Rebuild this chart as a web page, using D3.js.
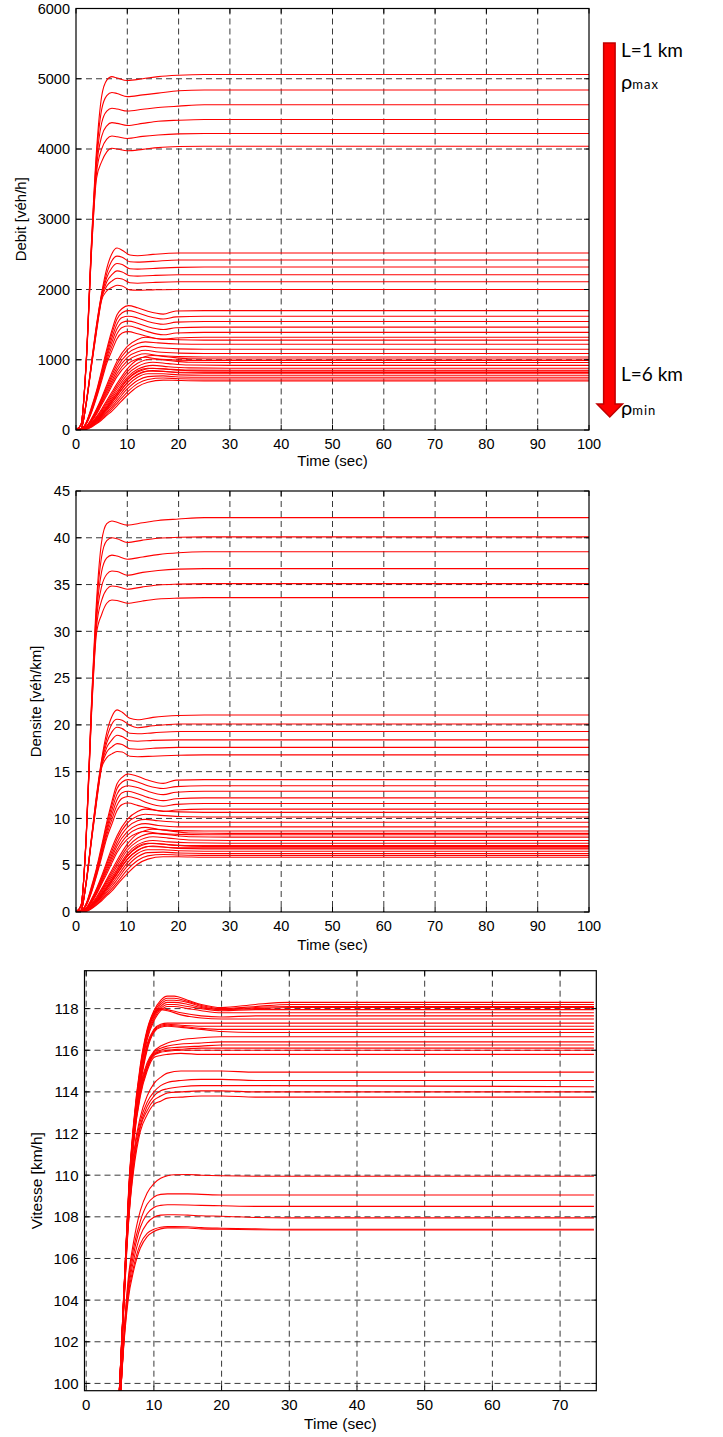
<!DOCTYPE html>
<html>
<head>
<meta charset="utf-8">
<script src="https://cdn.jsdelivr.net/npm/d3@7"></script>
<style>
  body { margin: 0; background: #fff; }
  svg { display: block; }
  .tick-label, .axis-label { font-family: "Liberation Sans", Arial, sans-serif; fill: #000; }
  .note { font-family: Lato, "Open Sans", sans-serif; fill: #000; }
</style>
</head>
<body>
<svg id="fig" width="723" height="1437"></svg>
<script>
// ---------- Debit [véh/h] and Densite [véh/km] : six families of six runs ----------
const timeA = [0, 1, 2, 3, 4, 5, 6, 7, 8, 10, 13, 16, 20, 25, 100];
const debitA = [
  [0, 80, 1000, 2650, 3980, 4750, 4980, 5030, 5010, 4975, 5000, 5030, 5050, 5060, 5060],
  [0, 80, 990, 2620, 3900, 4560, 4760, 4805, 4790, 4745, 4770, 4795, 4830, 4840, 4840],
  [0, 80, 980, 2590, 3820, 4370, 4540, 4580, 4570, 4540, 4565, 4590, 4610, 4630, 4630],
  [0, 80, 970, 2560, 3740, 4180, 4330, 4375, 4365, 4335, 4365, 4395, 4410, 4420, 4420],
  [0, 80, 960, 2530, 3660, 4000, 4140, 4185, 4175, 4150, 4180, 4200, 4215, 4220, 4220],
  [0, 80, 950, 2500, 3580, 3820, 3960, 4010, 4000, 3975, 3995, 4020, 4035, 4040, 4040]
];
const densiteA = [
  [0, 0.7, 8.3, 22.1, 33.2, 39.6, 41.5, 41.8, 41.65, 41.35, 41.6, 41.85, 42.0, 42.15, 42.15],
  [0, 0.7, 8.25, 21.8, 32.5, 38.0, 39.7, 40.0, 39.9, 39.5, 39.75, 39.95, 40.05, 40.1, 40.1],
  [0, 0.7, 8.2, 21.6, 31.8, 36.4, 37.85, 38.15, 38.05, 37.7, 37.95, 38.2, 38.4, 38.5, 38.5],
  [0, 0.7, 8.1, 21.3, 31.2, 34.8, 36.1, 36.45, 36.4, 36.0, 36.3, 36.5, 36.65, 36.7, 36.7],
  [0, 0.7, 8.0, 21.1, 30.5, 33.3, 34.5, 34.85, 34.8, 34.5, 34.75, 34.95, 35.05, 35.1, 35.1],
  [0, 0.7, 7.9, 20.8, 29.8, 31.8, 33.0, 33.35, 33.3, 33.0, 33.25, 33.45, 33.55, 33.6, 33.6]
];

const timeB = [0, 1, 2, 3, 4, 5, 6, 7, 8, 9, 10.5, 12, 15, 20, 25, 100];
const debitB = [
  [0, 20, 400, 950, 1500, 1950, 2300, 2510, 2590, 2560, 2490, 2480, 2500, 2520, 2520, 2520],
  [0, 20, 395, 940, 1480, 1930, 2230, 2410, 2475, 2460, 2395, 2390, 2400, 2420, 2420, 2420],
  [0, 20, 390, 930, 1460, 1910, 2170, 2310, 2370, 2355, 2295, 2290, 2300, 2315, 2320, 2320],
  [0, 20, 385, 920, 1440, 1890, 2110, 2210, 2265, 2250, 2195, 2190, 2200, 2210, 2210, 2210],
  [0, 20, 380, 910, 1420, 1870, 2050, 2120, 2160, 2150, 2095, 2090, 2100, 2110, 2110, 2110],
  [0, 20, 375, 900, 1400, 1850, 1980, 2030, 2060, 2050, 1995, 1990, 1995, 2000, 2000, 2000]
];
const densiteB = [
  [0, 0.2, 3.3, 7.9, 12.5, 16.3, 19.2, 20.9, 21.6, 21.35, 20.7, 20.55, 20.8, 21.0, 21.05, 21.05],
  [0, 0.2, 3.3, 7.8, 12.3, 16.1, 18.6, 20.1, 20.6, 20.5, 19.95, 19.7, 19.9, 20.1, 20.1, 20.1],
  [0, 0.2, 3.25, 7.75, 12.2, 15.9, 18.1, 19.25, 19.75, 19.6, 19.1, 19.05, 19.15, 19.3, 19.3, 19.3],
  [0, 0.2, 3.2, 7.7, 12.0, 15.75, 17.6, 18.4, 18.9, 18.75, 18.3, 18.25, 18.35, 18.4, 18.4, 18.4],
  [0, 0.2, 3.15, 7.6, 11.85, 15.6, 17.1, 17.65, 18.0, 17.9, 17.45, 17.4, 17.5, 17.6, 17.6, 17.6],
  [0, 0.2, 3.1, 7.5, 11.7, 15.4, 16.5, 16.9, 17.15, 17.1, 16.65, 16.6, 16.65, 16.75, 16.8, 16.8]
];

const timeC = [0, 1, 2, 3, 4, 5, 6, 7, 8, 9, 10.2, 12, 14, 17, 19.5, 25, 100];
const debitC = [
  [0, 10, 110, 320, 560, 850, 1150, 1420, 1640, 1730, 1770, 1740, 1690, 1650, 1695, 1700, 1700],
  [0, 10, 105, 305, 540, 820, 1110, 1370, 1580, 1670, 1700, 1670, 1620, 1580, 1610, 1620, 1620],
  [0, 10, 100, 290, 520, 790, 1070, 1310, 1510, 1600, 1620, 1595, 1545, 1505, 1535, 1545, 1545],
  [0, 10, 95, 275, 500, 760, 1030, 1250, 1440, 1530, 1550, 1520, 1470, 1430, 1455, 1465, 1465],
  [0, 10, 90, 260, 480, 730, 990, 1190, 1370, 1460, 1480, 1450, 1400, 1355, 1380, 1390, 1390],
  [0, 10, 85, 245, 460, 700, 950, 1130, 1300, 1380, 1400, 1370, 1330, 1290, 1310, 1320, 1320]
];
const densiteC = [
  [0, 0.1, 0.9, 2.7, 4.7, 7.1, 9.6, 11.8, 13.7, 14.4, 14.75, 14.5, 14.1, 13.75, 14.1, 14.15, 14.15],
  [0, 0.1, 0.9, 2.55, 4.5, 6.85, 9.25, 11.4, 13.2, 13.9, 14.15, 13.9, 13.5, 13.2, 13.4, 13.5, 13.5],
  [0, 0.1, 0.85, 2.4, 4.35, 6.6, 8.9, 10.9, 12.6, 13.3, 13.5, 13.3, 12.9, 12.55, 12.8, 12.9, 12.9],
  [0, 0.1, 0.8, 2.3, 4.15, 6.35, 8.6, 10.4, 12.0, 12.75, 12.9, 12.65, 12.25, 11.9, 12.1, 12.2, 12.2],
  [0, 0.1, 0.75, 2.15, 4.0, 6.1, 8.25, 9.9, 11.4, 12.15, 12.35, 12.1, 11.65, 11.3, 11.5, 11.6, 11.6],
  [0, 0.1, 0.7, 2.05, 3.85, 5.85, 7.9, 9.4, 10.85, 11.5, 11.65, 11.4, 11.1, 10.75, 10.9, 11.0, 11.0]
];

const timeD = [0, 1, 2, 3, 4, 5, 6, 7, 8, 10, 12, 13.5, 16, 20, 25, 100];
const debitD = [
  [0, 5, 50, 160, 300, 460, 640, 820, 980, 1190, 1290, 1320, 1300, 1285, 1280, 1280],
  [0, 5, 48, 150, 285, 440, 610, 780, 935, 1140, 1230, 1255, 1240, 1225, 1220, 1220],
  [0, 5, 46, 142, 270, 420, 580, 740, 890, 1085, 1170, 1190, 1170, 1155, 1150, 1150],
  [0, 5, 44, 135, 255, 400, 550, 700, 845, 1035, 1115, 1135, 1110, 1095, 1090, 1090],
  [0, 5, 42, 128, 240, 380, 520, 665, 800, 985, 1065, 1085, 1060, 1045, 1040, 1040],
  [0, 5, 40, 120, 225, 360, 490, 630, 760, 935, 1015, 1035, 1010, 995, 990, 990]
];
const densiteD = [
  [0, 0.05, 0.4, 1.35, 2.5, 3.85, 5.35, 6.85, 8.15, 9.9, 10.75, 11.0, 10.85, 10.7, 10.65, 10.65],
  [0, 0.05, 0.4, 1.25, 2.4, 3.65, 5.1, 6.5, 7.8, 9.5, 10.25, 10.45, 10.35, 10.2, 10.15, 10.15],
  [0, 0.05, 0.38, 1.2, 2.25, 3.5, 4.85, 6.15, 7.4, 9.05, 9.75, 9.9, 9.75, 9.6, 9.6, 9.6],
  [0, 0.05, 0.37, 1.1, 2.1, 3.35, 4.6, 5.85, 7.05, 8.6, 9.3, 9.45, 9.25, 9.1, 9.1, 9.1],
  [0, 0.05, 0.35, 1.05, 2.0, 3.15, 4.35, 5.55, 6.65, 8.2, 8.9, 9.05, 8.85, 8.7, 8.65, 8.65],
  [0, 0.05, 0.33, 1.0, 1.9, 3.0, 4.1, 5.25, 6.35, 7.8, 8.45, 8.6, 8.4, 8.3, 8.25, 8.25]
];

const timeE = [0, 2, 3, 4, 5, 6, 7, 8, 10, 12, 15, 18, 22, 30, 100];
const debitE = [
  [0, 30, 100, 190, 300, 420, 540, 660, 870, 1000, 1060, 1040, 1015, 1010, 1010],
  [0, 28, 92, 175, 280, 395, 510, 625, 830, 950, 1010, 990, 965, 960, 960],
  [0, 26, 85, 162, 262, 370, 480, 590, 790, 905, 965, 945, 925, 920, 920],
  [0, 24, 78, 150, 245, 345, 450, 555, 750, 865, 920, 900, 885, 880, 880],
  [0, 22, 72, 140, 228, 322, 422, 522, 712, 825, 880, 865, 852, 850, 850],
  [0, 20, 66, 130, 212, 300, 395, 490, 675, 785, 845, 830, 822, 820, 820]
];
const densiteE = [
  [0, 0.25, 0.85, 1.6, 2.5, 3.5, 4.5, 5.5, 7.25, 8.35, 8.85, 8.7, 8.45, 8.4, 8.4],
  [0, 0.23, 0.77, 1.45, 2.35, 3.3, 4.25, 5.2, 6.9, 7.9, 8.4, 8.25, 8.05, 8.0, 8.0],
  [0, 0.22, 0.7, 1.35, 2.2, 3.1, 4.0, 4.9, 6.6, 7.55, 8.05, 7.9, 7.7, 7.65, 7.65],
  [0, 0.2, 0.65, 1.25, 2.05, 2.9, 3.75, 4.6, 6.25, 7.2, 7.65, 7.5, 7.4, 7.35, 7.35],
  [0, 0.18, 0.6, 1.15, 1.9, 2.7, 3.5, 4.35, 5.95, 6.9, 7.35, 7.2, 7.1, 7.1, 7.1],
  [0, 0.17, 0.55, 1.1, 1.75, 2.5, 3.3, 4.1, 5.65, 6.55, 7.05, 6.9, 6.85, 6.85, 6.85]
];

const timeF = [0, 2, 3, 4, 5, 6, 7, 8, 10, 12, 14, 17, 20, 25, 100];
const debitF = [
  [0, 20, 80, 150, 230, 320, 420, 520, 720, 840, 880, 870, 850, 840, 840],
  [0, 18, 72, 138, 212, 298, 390, 485, 675, 795, 840, 835, 815, 810, 810],
  [0, 16, 64, 125, 195, 275, 360, 450, 630, 750, 800, 800, 785, 780, 780],
  [0, 14, 56, 112, 178, 252, 330, 415, 585, 705, 760, 770, 755, 750, 750],
  [0, 12, 48, 100, 160, 230, 300, 380, 540, 660, 720, 740, 730, 725, 725],
  [0, 10, 40, 88, 142, 208, 270, 345, 495, 615, 680, 710, 705, 700, 700]
];
const densiteF = [
  [0, 0.17, 0.65, 1.25, 1.9, 2.65, 3.5, 4.35, 6.0, 7.0, 7.35, 7.25, 7.1, 7.0, 7.0],
  [0, 0.15, 0.6, 1.15, 1.75, 2.5, 3.25, 4.05, 5.6, 6.6, 7.0, 6.95, 6.8, 6.75, 6.75],
  [0, 0.13, 0.55, 1.05, 1.6, 2.3, 3.0, 3.75, 5.25, 6.25, 6.65, 6.65, 6.55, 6.5, 6.5],
  [0, 0.12, 0.45, 0.95, 1.5, 2.1, 2.75, 3.45, 4.9, 5.9, 6.35, 6.4, 6.3, 6.25, 6.25],
  [0, 0.1, 0.4, 0.85, 1.35, 1.9, 2.5, 3.15, 4.5, 5.5, 6.0, 6.15, 6.1, 6.05, 6.05],
  [0, 0.08, 0.35, 0.75, 1.2, 1.75, 2.25, 2.9, 4.1, 5.1, 5.65, 5.9, 5.9, 5.85, 5.85]
];

// ---------- Vitesse [km/h] ----------
const timeS1 = [4.8, 5.3, 5.8, 6.3, 7, 8, 9, 10, 11, 12, 13, 15, 17, 20, 25, 30, 75];
const vitesseS1 = [
  [99, 102.5, 106, 109.5, 112.5, 115.3, 117.0, 117.9, 118.4, 118.6, 118.6, 118.4, 118.2, 118.05, 118.2, 118.3, 118.3],
  [99, 102.5, 106, 109.4, 112.4, 115.2, 116.9, 117.8, 118.3, 118.5, 118.5, 118.35, 118.15, 118.0, 118.1, 118.2, 118.2],
  [99, 102.4, 105.9, 109.3, 112.3, 115.1, 116.8, 117.7, 118.2, 118.4, 118.4, 118.3, 118.1, 117.95, 118.05, 118.1, 118.1],
  [99, 102.4, 105.8, 109.2, 112.2, 115.0, 116.7, 117.6, 118.1, 118.3, 118.3, 118.2, 118.05, 117.95, 118.0, 118.05, 118.05],
  [99, 102.3, 105.7, 109.1, 112.1, 114.9, 116.6, 117.5, 118.0, 118.2, 118.2, 118.1, 118.0, 117.9, 117.95, 117.95, 117.95],
  [99, 102.3, 105.6, 109.0, 112.0, 114.8, 116.5, 117.4, 117.9, 118.1, 118.1, 118.0, 117.9, 117.8, 117.8, 117.8, 117.8]
];
const timeS2 = [4.8, 5.3, 5.8, 6.3, 7, 8, 9, 10, 11, 12, 14, 17, 20, 25, 30, 75];
const vitesseS2 = [
  [99, 102.4, 105.9, 109.3, 112.3, 115.1, 116.9, 117.8, 118.0, 117.95, 117.8, 117.65, 117.6, 117.65, 117.65, 117.65],
  [99, 102.3, 105.8, 109.2, 112.2, 115.0, 116.8, 117.7, 117.95, 117.9, 117.7, 117.55, 117.5, 117.5, 117.5, 117.5],
  [99, 102.2, 105.6, 109.0, 111.9, 114.6, 116.3, 117.0, 117.25, 117.3, 117.3, 117.3, 117.3, 117.3, 117.3, 117.3],
  [99, 102.2, 105.5, 108.9, 111.8, 114.5, 116.2, 116.95, 117.2, 117.25, 117.2, 117.15, 117.15, 117.15, 117.15, 117.15],
  [99, 102.1, 105.4, 108.8, 111.7, 114.4, 116.1, 116.9, 117.15, 117.2, 117.15, 117.05, 117.0, 117.0, 117.0, 117.0],
  [99, 102.1, 105.3, 108.7, 111.6, 114.3, 116.0, 116.85, 117.1, 117.15, 117.1, 117.0, 116.9, 116.85, 116.85, 116.85]
];
const timeS3 = [4.9, 5.5, 6, 6.5, 7, 8, 9, 10, 11, 12, 14, 17, 20, 25, 75];
const vitesseS3 = [
  [99, 104, 107.4, 110.0, 112.0, 114.3, 115.4, 115.95, 116.2, 116.35, 116.5, 116.6, 116.65, 116.65, 116.65],
  [99, 103.9, 107.3, 109.9, 111.9, 114.2, 115.3, 115.9, 116.1, 116.2, 116.3, 116.35, 116.4, 116.4, 116.4],
  [99, 103.8, 107.2, 109.8, 111.8, 114.1, 115.2, 115.85, 116.0, 116.1, 116.15, 116.2, 116.25, 116.25, 116.25],
  [99, 103.7, 107.1, 109.7, 111.7, 114.0, 115.15, 115.8, 115.95, 116.0, 116.05, 116.1, 116.1, 116.1, 116.1],
  [99, 103.6, 107.0, 109.6, 111.6, 113.9, 115.1, 115.75, 115.9, 115.95, 116.0, 116.0, 116.0, 116.0, 116.0],
  [99, 103.5, 106.9, 109.5, 111.5, 113.8, 115.0, 115.65, 115.75, 115.8, 115.85, 115.8, 115.8, 115.8, 115.8]
];
const timeS4 = [4.9, 5.5, 6, 6.5, 7, 8, 9, 10, 11, 12, 14, 17, 20, 25, 75];
const vitesseS4 = [
  [99, 103.6, 106.8, 109.2, 111.0, 112.8, 113.8, 114.4, 114.7, 114.9, 115.0, 115.0, 115.0, 114.95, 114.95],
  [99, 103.5, 106.7, 109.0, 110.8, 112.6, 113.5, 114.0, 114.3, 114.45, 114.55, 114.6, 114.6, 114.55, 114.55],
  [99, 103.4, 106.6, 108.9, 110.6, 112.4, 113.3, 113.8, 114.05, 114.15, 114.25, 114.3, 114.3, 114.3, 114.25],
  [99, 103.3, 106.5, 108.8, 110.4, 112.3, 113.1, 113.6, 113.8, 113.95, 114.0, 114.05, 114.05, 114.0, 114.0],
  [99, 103.2, 106.4, 108.7, 110.2, 112.1, 112.9, 113.4, 113.55, 113.7, 113.75, 113.8, 113.8, 113.75, 113.75]
];
const timeL = [5.0, 5.6, 6.2, 7, 8, 9, 10, 11, 12, 13, 15, 17, 20, 25, 30, 75];
const vitesseL = [
  [99, 102.5, 105.0, 106.8, 108.3, 109.15, 109.6, 109.85, 109.97, 110.02, 110.03, 110.0, 109.97, 109.95, 109.95, 109.95],
  [99, 102.4, 104.8, 106.5, 107.8, 108.6, 108.95, 109.08, 109.1, 109.1, 109.1, 109.08, 109.05, 109.05, 109.05, 109.05],
  [99, 102.3, 104.6, 106.2, 107.5, 108.15, 108.45, 108.55, 108.58, 108.58, 108.57, 108.55, 108.53, 108.5, 108.5, 108.5],
  [99, 102.2, 104.4, 105.9, 107.1, 107.7, 107.98, 108.08, 108.1, 108.1, 108.08, 108.05, 108.03, 107.97, 107.95, 107.95],
  [99, 102.1, 104.2, 105.6, 106.7, 107.2, 107.4, 107.5, 107.53, 107.53, 107.52, 107.48, 107.45, 107.42, 107.4, 107.4],
  [99, 102.0, 104.0, 105.4, 106.5, 107.05, 107.3, 107.42, 107.47, 107.47, 107.46, 107.42, 107.4, 107.38, 107.37, 107.37]
];

// ---------- tick values ----------
const ticksTime100 = [0, 10, 20, 30, 40, 50, 60, 70, 80, 90, 100];
const ticksTime75 = [0, 10, 20, 30, 40, 50, 60, 70];
const ticksDebit = [0, 1000, 2000, 3000, 4000, 5000, 6000];
const ticksDensite = [0, 5, 10, 15, 20, 25, 30, 35, 40, 45];
const ticksVitesse = [100, 102, 104, 106, 108, 110, 112, 114, 116, 118];

const svg = d3.select("#fig");

function panel(cfg) {
  const { id, x, y, xTicks, yTicks, groups, xLabel, yLabel, fs, lfs, xTickBase, xLabelBase, yLabelX } = cfg;
  const [x0, x1] = x.range();
  const [yb, yt] = y.range();
  const g = svg.append("g").attr("id", id);

  g.append("clipPath").attr("id", id + "-clip")
    .append("rect").attr("x", x0).attr("y", yt).attr("width", x1 - x0).attr("height", yb - yt);

  // dashed grid
  const grid = g.append("g").attr("stroke", "#3a3a3a").attr("stroke-width", 1)
    .attr("stroke-dasharray", "6,4").attr("fill", "none");
  xTicks.filter(v => Math.abs(x(v) - x0) > 1.5 && Math.abs(x(v) - x1) > 1.5).forEach(v => {
    grid.append("line").attr("x1", x(v)).attr("x2", x(v)).attr("y1", yt).attr("y2", yb);
  });
  yTicks.filter(v => Math.abs(y(v) - yb) > 1.5 && Math.abs(y(v) - yt) > 1.5).forEach(v => {
    grid.append("line").attr("y1", y(v)).attr("y2", y(v)).attr("x1", x0).attr("x2", x1);
  });

  // curves
  const line = d3.line().x(d => x(d[0])).y(d => y(d[1])).curve(d3.curveMonotoneX);
  const lines = g.append("g").attr("clip-path", `url(#${id}-clip)`)
    .attr("fill", "none").attr("stroke", "#ff0000").attr("stroke-width", 1.1);
  groups.forEach(gr => {
    gr.values.forEach(vals => {
      lines.append("path").attr("d", line(gr.times.map((t, i) => [t, vals[i]])));
    });
  });

  // frame and inward ticks on all four sides
  g.append("rect").attr("x", x0).attr("y", yt).attr("width", x1 - x0).attr("height", yb - yt)
    .attr("fill", "none").attr("stroke", "#000").attr("stroke-width", 1.2);
  const tk = g.append("g").attr("stroke", "#000").attr("stroke-width", 1);
  const len = 5;
  xTicks.forEach(v => {
    tk.append("line").attr("x1", x(v)).attr("x2", x(v)).attr("y1", yb).attr("y2", yb - len);
    tk.append("line").attr("x1", x(v)).attr("x2", x(v)).attr("y1", yt).attr("y2", yt + len);
  });
  yTicks.forEach(v => {
    tk.append("line").attr("y1", y(v)).attr("y2", y(v)).attr("x1", x0).attr("x2", x0 + len);
    tk.append("line").attr("y1", y(v)).attr("y2", y(v)).attr("x1", x1).attr("x2", x1 - len);
  });

  // tick labels
  g.append("g").selectAll("text").data(xTicks).join("text")
    .attr("class", "tick-label").attr("x", d => x(d)).attr("y", xTickBase)
    .attr("text-anchor", "middle").style("font-size", fs + "px").text(d => d);
  g.append("g").selectAll("text").data(yTicks).join("text")
    .attr("class", "tick-label").attr("x", x0 - 6).attr("y", d => y(d)).attr("dy", "0.36em")
    .attr("text-anchor", "end").style("font-size", fs + "px").text(d => d);

  // axis titles
  g.append("text").attr("class", "axis-label").attr("x", (x0 + x1) / 2).attr("y", xLabelBase)
    .attr("text-anchor", "middle").style("font-size", lfs + "px").text(xLabel);
  g.append("text").attr("class", "axis-label")
    .attr("transform", `translate(${yLabelX},${(yb + yt) / 2}) rotate(-90)`)
    .attr("text-anchor", "middle").style("font-size", lfs + "px").text(yLabel);
}

// Debit
panel({
  id: "debit",
  x: d3.scaleLinear().domain([0, 100]).range([76, 589]),
  y: d3.scaleLinear().domain([0, 6000]).range([430, 8.5]),
  xTicks: ticksTime100, yTicks: ticksDebit,
  groups: [
    { times: timeF, values: debitF }, { times: timeE, values: debitE },
    { times: timeD, values: debitD }, { times: timeC, values: debitC },
    { times: timeB, values: debitB }, { times: timeA, values: debitA }
  ],
  xLabel: "Time (sec)", yLabel: "Debit [véh/h]", fs: 14.5, lfs: 15,
  xTickBase: 448.5, xLabelBase: 466, yLabelX: 26
});

// Densite
panel({
  id: "densite",
  x: d3.scaleLinear().domain([0, 100]).range([76, 589]),
  y: d3.scaleLinear().domain([0, 45]).range([912, 491]),
  xTicks: ticksTime100, yTicks: ticksDensite,
  groups: [
    { times: timeF, values: densiteF }, { times: timeE, values: densiteE },
    { times: timeD, values: densiteD }, { times: timeC, values: densiteC },
    { times: timeB, values: densiteB }, { times: timeA, values: densiteA }
  ],
  xLabel: "Time (sec)", yLabel: "Densite [véh/km]", fs: 14.5, lfs: 15,
  xTickBase: 930.5, xLabelBase: 950, yLabelX: 41
});

// Vitesse
panel({
  id: "vitesse",
  x: d3.scaleLinear().domain([-0.25, 75.35]).range([84.5, 596.3]),
  y: d3.scaleLinear().domain([99.65, 119.82]).range([1390.7, 970.7]),
  xTicks: ticksTime75, yTicks: ticksVitesse,
  groups: [
    { times: timeL, values: vitesseL }, { times: timeS4, values: vitesseS4 },
    { times: timeS3, values: vitesseS3 }, { times: timeS2, values: vitesseS2 },
    { times: timeS1, values: vitesseS1 }
  ],
  xLabel: "Time (sec)", yLabel: "Vitesse [km/h]", fs: 15, lfs: 15.5,
  xTickBase: 1410, xLabelBase: 1428.5, yLabelX: 42
});

// Annotation: length / density direction arrow beside the Debit panel
const ann = svg.append("g");
const ax = d3.scaleLinear().domain([0, 1]).range([597, 622.5]);
const ay = d3.scaleLinear().domain([0, 1]).range([43, 417]);
const arrowPts = [[0.26, 0], [0.71, 0], [0.71, 0.965], [1, 0.965], [0.5, 1], [0, 0.965], [0.26, 0.965]];
ann.append("path")
  .attr("d", d3.line().x(d => ax(d[0])).y(d => ay(d[1]))(arrowPts) + "Z")
  .attr("fill", "#ff0000").attr("stroke", "#c00000").attr("stroke-width", 1.5)
  .attr("stroke-linejoin", "miter");

ann.append("text").attr("class", "note").attr("x", 621).attr("y", 57)
  .style("font-size", "19px").text("L=1 km");
const t1 = ann.append("text").attr("class", "note").attr("x", 621).attr("y", 88.5);
t1.append("tspan").style("font-size", "20px").text("ρ");
t1.append("tspan").style("font-size", "13px").style("letter-spacing", "1px").text("max");
ann.append("text").attr("class", "note").attr("x", 621).attr("y", 381)
  .style("font-size", "19px").text("L=6 km");
const t2 = ann.append("text").attr("class", "note").attr("x", 621).attr("y", 415);
t2.append("tspan").style("font-size", "20px").text("ρ");
t2.append("tspan").style("font-size", "13px").style("letter-spacing", "1px").text("min");
</script>
</body>
</html>
